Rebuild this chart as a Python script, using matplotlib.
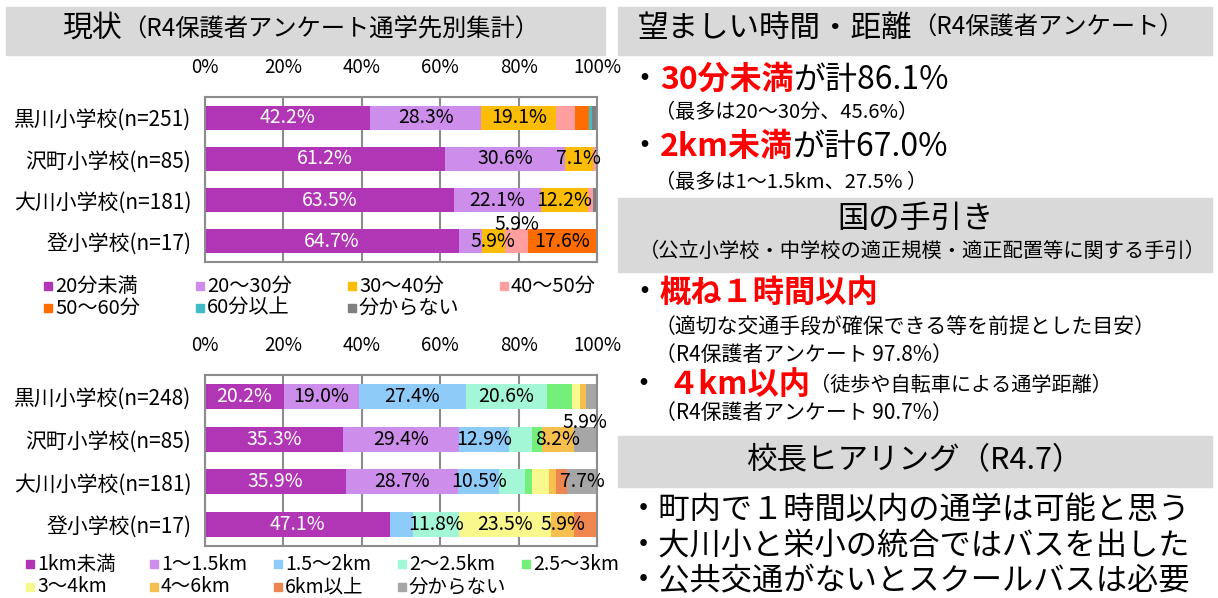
import matplotlib
matplotlib.use("Agg")
import matplotlib.pyplot as plt
from matplotlib.patches import Rectangle
import numpy as np

plt.rcParams['font.family'] = ['Noto Sans CJK JP', 'DejaVu Sans']
NARROW = ['Liberation Sans Narrow', 'Noto Sans CJK JP', 'DejaVu Sans']

W, H = 1218, 598

# --- data --------------------------------------------------------------
time_schools = ["黒川小学校(n=251)", "沢町小学校(n=85)", "大川小学校(n=181)", "登小学校(n=17)"]
time_cats = ["20分未満", "20～30分", "30～40分", "40～50分", "50～60分", "60分以上", "分からない"]
time_colors = ["#B036B6", "#CD8EEB", "#FBBC05", "#FF9E9E", "#FF6C00", "#41BCC6", "#7F7F7F"]
time_vals = [
    [42.2, 28.3, 19.1, 4.8, 3.6, 0.8, 1.2],
    [61.2, 30.6, 7.1, 1.2, 0.0, 0.0, 0.0],
    [63.5, 22.1, 12.2, 1.1, 0.0, 0.0, 1.1],
    [64.7, 5.9, 5.9, 5.9, 17.6, 0.0, 0.0],
]
# 1 = label inside the bar, 2 = label lifted above the bar
time_lbl = [
    [1, 1, 1, 0, 0, 0, 0],
    [1, 1, 1, 0, 0, 0, 0],
    [1, 1, 1, 0, 0, 0, 0],
    [1, 0, 1, 2, 1, 0, 0],
]

dist_schools = ["黒川小学校(n=248)", "沢町小学校(n=85)", "大川小学校(n=181)", "登小学校(n=17)"]
dist_cats = ["1km未満", "1～1.5km", "1.5～2km", "2～2.5km", "2.5～3km",
             "3～4km", "4～6km", "6km以上", "分からない"]
dist_colors = ["#B036B6", "#CD8EEB", "#8FCBF8", "#A3F7D6", "#74EF7A",
               "#F8F88C", "#F6BF4E", "#F0864F", "#A6A6A6"]
dist_vals = [
    [20.2, 19.0, 27.4, 20.6, 6.5, 2.0, 1.6, 0.0, 2.8],
    [35.3, 29.4, 12.9, 5.9, 2.4, 0.0, 8.2, 0.0, 5.9],
    [35.9, 28.7, 10.5, 6.6, 1.7, 4.4, 1.7, 2.8, 7.7],
    [47.1, 0.0, 5.9, 11.8, 0.0, 23.5, 5.9, 5.9, 0.0],
]
dist_lbl = [
    [1, 1, 1, 1, 0, 0, 0, 0, 0],
    [1, 1, 1, 0, 0, 0, 1, 0, 2],
    [1, 1, 1, 0, 0, 0, 0, 0, 1],
    [1, 0, 0, 1, 0, 1, 1, 0, 0],
]
ticks = [0, 20, 40, 60, 80, 100]

fig = plt.figure(figsize=(W / 100, H / 100), dpi=100)
fig.patch.set_facecolor("white")


def fx(px):
    return px / W


def fy(py):
    return 1 - py / H


def box(x0, y0, x1, y1, color="#D9D9D9"):
    fig.patches.append(Rectangle((fx(x0), fy(y1)), (x1 - x0) / W, (y1 - y0) / H,
                                 transform=fig.transFigure, color=color, zorder=0))


def runs(x, y, parts):
    """draw text pieces one after another on one line"""
    r = fig.canvas.get_renderer()
    for txt, size, color, weight in parts:
        t = fig.text(fx(x), fy(y), txt, fontsize=size, color=color, weight=weight,
                     va="center", ha="left")
        x += t.get_window_extent(renderer=r).width


def bar_chart(top, bottom, names, vals, colors, lbls, lift):
    ax = fig.add_axes([fx(205), fy(bottom), (597 - 205) / W, (bottom - top) / H])
    vals = np.array(vals)
    y = np.arange(len(names))
    left = np.zeros(len(names))
    for j, col in enumerate(colors):
        ax.barh(y, vals[:, j], left=left, height=0.58, color=col, zorder=2)
        for i in range(len(names)):
            if lbls[i][j]:
                dy = -lift if lbls[i][j] == 2 else 0
                ax.text(left[i] + vals[i, j] / 2, y[i] + dy, f"{vals[i, j]:.1f}%",
                        ha="center", va="center", fontsize=14, family=NARROW,
                        color="white" if j == 0 else "black", zorder=3, clip_on=False)
        left += vals[:, j]
    ax.set_xlim(0, 100)
    ax.set_ylim(len(names) - 0.5, -0.5)
    ax.xaxis.tick_top()
    ax.set_xticks(ticks)
    ax.set_xticklabels([f"{t}%" for t in ticks], family=NARROW, fontsize=13.5)
    ax.set_yticks(y)
    ax.set_yticklabels(names, family=NARROW, fontsize=15)
    ax.tick_params(length=0, pad=10)
    ax.tick_params(axis="x", pad=14)
    ax.grid(axis="x", color="#8C8C8C", lw=1.5, zorder=0)
    ax.set_axisbelow(True)
    for s in ax.spines.values():
        s.set_color("#8C8C8C")
        s.set_linewidth(1.5)
    return ax


def legend(x0, dx, y0, dy, ncol, cats, colors, size):
    for k, (c, col) in enumerate(zip(cats, colors)):
        r, cc = divmod(k, ncol)
        x = x0 + cc * dx
        yy = y0 + r * dy
        fig.patches.append(Rectangle((fx(x), fy(yy + 4)), 8 / W, 8 / H,
                                     transform=fig.transFigure, color=col))
        fig.text(fx(x + 11), fy(yy), c, va="center", ha="left", fontsize=size)


# --- left side ---------------------------------------------------------
box(6, 7, 605, 55)
runs(62, 28, [("現状", 21.5, "black", "normal"),
              ("（R4保護者アンケート通学先別集計）", 17.5, "black", "normal")])

bar_chart(97, 262, time_schools, time_vals, time_colors, time_lbl, 0.42)
legend(44, 152, 286, 22, 4, time_cats, time_colors, 14.5)

bar_chart(375, 546, dist_schools, dist_vals, dist_colors, dist_lbl, 0.38)
legend(26, 124, 564, 23, 5, dist_cats, dist_colors, 14)

# --- right side --------------------------------------------------------
RED = "#FF0000"
box(618, 7, 1212, 55)
runs(638, 28, [("望ましい時間・距離", 22, "black", "normal"),
               ("（R4保護者アンケート）", 17.5, "black", "normal")])

runs(628, 80, [("・", 23, "black", "normal"), ("30分未満", 23, RED, "bold"),
               ("が計86.1%", 23, "black", "normal")])
fig.text(fx(655), fy(113), "（最多は20～30分、45.6%）", fontsize=14.5, va="center")
runs(628, 147, [("・", 23, "black", "normal"), ("2km未満", 23, RED, "bold"),
                ("が計67.0%", 23, "black", "normal")])
fig.text(fx(655), fy(183), "（最多は1～1.5km、27.5% ）", fontsize=14.5, va="center")

box(618, 198, 1212, 272)
fig.text(fx(915), fy(219), "国の手引き", fontsize=22.5, ha="center", va="center")
fig.text(fx(922), fy(251), "（公立小学校・中学校の適正規模・適正配置等に関する手引）",
         fontsize=14.6, ha="center", va="center")

runs(628, 293, [("・", 23, "black", "normal"), ("概ね１時間以内", 22.5, RED, "bold")])
fig.text(fx(655), fy(327), "（適切な交通手段が確保できる等を前提とした目安）", fontsize=15, va="center")
fig.text(fx(655), fy(355), "（R4保護者アンケート 97.8%）", fontsize=15, va="center")
runs(628, 385, [("・ ", 23, "black", "normal"), ("４km以内", 22.5, RED, "bold"),
                ("（徒歩や自転車による通学距離）", 14.5, "black", "normal")])
fig.text(fx(655), fy(413), "（R4保護者アンケート 90.7%）", fontsize=15, va="center")

box(618, 436, 1212, 487)
fig.text(fx(915), fy(461), "校長ヒアリング（R4.7）", fontsize=22, ha="center", va="center")
fig.text(fx(628), fy(510), "・町内で１時間以内の通学は可能と思う", fontsize=22.5, va="center")
fig.text(fx(628), fy(546), "・大川小と栄小の統合ではバスを出した", fontsize=22.5, va="center")
fig.text(fx(628), fy(581), "・公共交通がないとスクールバスは必要", fontsize=22.5, va="center")

fig.savefig("out.png", dpi=100, facecolor="white")
